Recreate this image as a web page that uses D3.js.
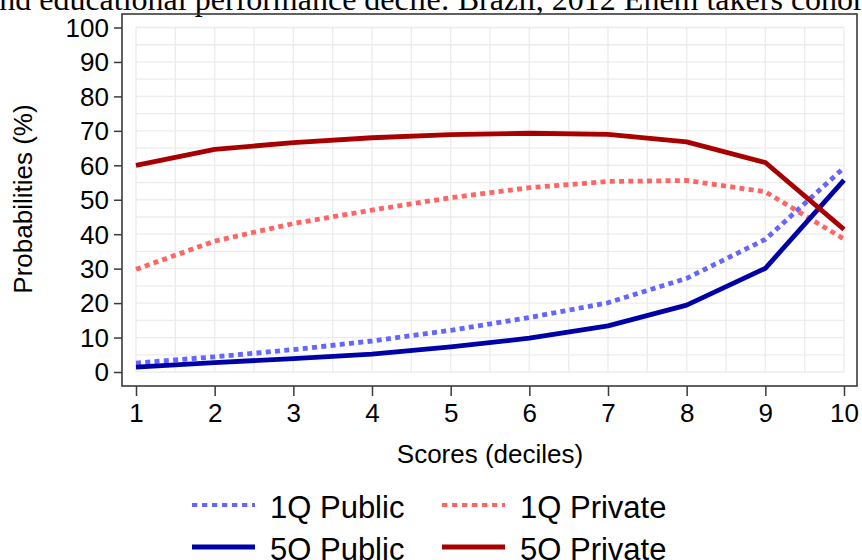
<!DOCTYPE html>
<html lang="en">
<head>
	<meta charset="utf-8">
	<title>Probabilities by score decile</title>
	<script src="https://d3js.org/d3.v7.min.js"></script>
	<style>
		body { margin: 0; background: #fff; }
		svg text { font-family: "Liberation Sans", Arial, sans-serif; fill: #000; }
	</style>
</head>
<body>
	<div id="chart"></div>
	<script>
		// deciles on the x axis
		let deciles = [1, 2, 3, 4, 5, 6, 7, 8, 9, 10];
		// probabilities (%)
		let q1Public  = [2.6, 4.4, 6.5, 9.0, 12.1, 15.8, 20.1, 27.2, 38.5, 59.3];
		let q5Public  = [1.4, 2.7, 3.9, 5.2, 7.3, 9.8, 13.4, 19.4, 30.1, 55.7];
		let q1Private = [29.8, 38.0, 43.1, 47.0, 50.6, 53.5, 55.3, 55.6, 52.3, 38.6];
		let q5Private = [60.0, 64.6, 66.6, 68.0, 68.9, 69.3, 69.0, 66.8, 60.8, 41.4];
		let yTicks = [0, 10, 20, 30, 40, 50, 60, 70, 80, 90, 100];
		let seriesNames = ["1Q Public", "1Q Private", "5Q Public", "5Q Private"];

		let width = 862;
		let height = 560;

		let svg = d3.select("#chart")
			.append("svg")
			.attr("width", width)
			.attr("height", height);

		// cut-off title at the top of the page
		svg.append("text")
			.attr("x", -15)
			.attr("y", 9.5)
			.style("font-family", "'Liberation Serif', 'Times New Roman', serif")
			.style("font-size", "32px")
			.text("and educational performance decile: Brazil, 2012 Enem takers cohort");

		let x = d3.scaleLinear().domain([1, 10]).range([136, 844]);
		let y = d3.scaleLinear().domain([0, 100]).range([372, 27.5]);

		// grid every half unit
		let grid = svg.append("g");
		grid.selectAll("line.h")
			.data(d3.range(0, 100.1, 5))
			.enter().append("line")
			.attr("x1", x(1)).attr("x2", x(10))
			.attr("y1", d => y(d)).attr("y2", d => y(d))
			.attr("stroke", "#ececec").attr("stroke-width", 1.3);
		grid.selectAll("line.v")
			.data(d3.range(1, 10.01, 0.5))
			.enter().append("line")
			.attr("y1", y(0)).attr("y2", y(100))
			.attr("x1", d => x(d)).attr("x2", d => x(d))
			.attr("stroke", "#ececec").attr("stroke-width", 1.3);

		// plot frame
		svg.append("rect")
			.attr("x", 122).attr("y", 14)
			.attr("width", 735).attr("height", 372)
			.attr("fill", "none")
			.attr("stroke", "#3a3a3a")
			.attr("stroke-width", 1.6);

		// axes
		let yAxis = svg.append("g")
			.attr("transform", "translate(122,0)")
			.call(d3.axisLeft(y).tickValues(yTicks).tickSize(8).tickPadding(5));
		let xAxis = svg.append("g")
			.attr("transform", "translate(0,386)")
			.call(d3.axisBottom(x).tickValues(deciles).tickSize(10).tickPadding(8));
		[yAxis, xAxis].forEach(a => {
			a.select(".domain").remove();
			a.selectAll(".tick line").attr("stroke", "#3a3a3a").attr("stroke-width", 1.5);
			a.selectAll(".tick text").style("font-size", "26px").attr("fill", "#000");
		});
		yAxis.selectAll(".tick text").attr("dy", "0.34em");

		svg.append("text")
			.attr("x", x(5.5))
			.attr("y", 463)
			.attr("text-anchor", "middle")
			.style("font-size", "26px")
			.text("Scores (deciles)");

		svg.append("text")
			.attr("transform", "translate(32," + 199 + ") rotate(-90)")
			.attr("text-anchor", "middle")
			.style("font-size", "26px")
			.text("Probabilities (%)");

		// series
		let series = [
			{ name: seriesNames[0], values: q1Public,  color: "#6565ff", dash: "5,4.3" },
			{ name: seriesNames[1], values: q1Private, color: "#ff6565", dash: "5,4.3" },
			{ name: seriesNames[2], values: q5Public,  color: "#0000a8", dash: null },
			{ name: seriesNames[3], values: q5Private, color: "#a80000", dash: null }
		];

		let line = d3.line()
			.x((d, i) => x(deciles[i]))
			.y(d => y(d));

		series.forEach(s => {
			svg.append("path")
				.datum(s.values)
				.attr("fill", "none")
				.attr("stroke", s.color)
				.attr("stroke-width", 4.8)
				.attr("stroke-linejoin", "round")
				.attr("stroke-dasharray", s.dash)
				.attr("d", line);
		});

		// legend: 2 columns, 2 rows
		let legendPos = [
			{ lx: 192, ly: 505 },
			{ lx: 442, ly: 505 },
			{ lx: 192, ly: 547 },
			{ lx: 442, ly: 547 }
		];
		series.forEach((s, i) => {
			let p = legendPos[i];
			svg.append("line")
				.attr("x1", p.lx).attr("x2", p.lx + 63)
				.attr("y1", p.ly).attr("y2", p.ly)
				.attr("stroke", s.color)
				.attr("stroke-width", s.dash ? 4 : 5)
				.attr("stroke-dasharray", s.dash ? "5.3,4.7" : null);
			svg.append("text")
				.attr("x", p.lx + 78)
				.attr("y", p.ly + 13)
				.style("font-size", "31px")
				.text(s.name);
		});
	</script>
</body>
</html>
